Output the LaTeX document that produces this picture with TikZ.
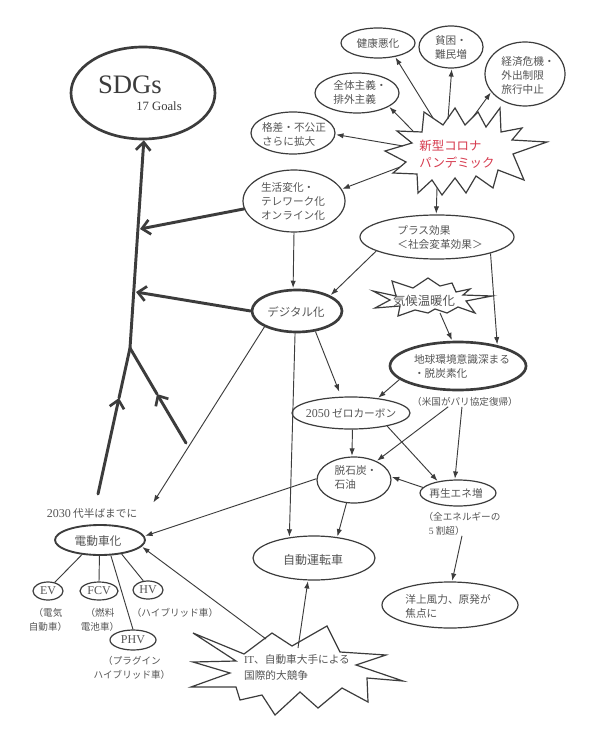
\documentclass[tikz,border=0pt]{standalone}
\usepackage{fontspec}
\setmainfont{Noto Sans CJK JP}
\newfontfamily\lat{Liberation Serif}
\usetikzlibrary{arrows.meta,shapes.geometric}
\definecolor{corored}{RGB}{214,58,78}
\definecolor{ink}{RGB}{60,60,60}
\definecolor{txtc}{RGB}{85,85,85}
\tikzset{
  ln/.style={draw=ink, line width=0.7pt},
  arr/.style={ln, -{Latex[length=5.5pt,width=4pt]}, shorten >=0.5pt},
  big/.style={draw=ink, line width=2.2pt, line cap=round},
  barb/.style={-{Straight Barb[length=6pt,width=11pt,line width=2pt]}},
  ell/.style={ellipse, draw=ink, line width=0.9pt, inner sep=0pt},
  sz/.style 2 args={minimum width=#1*0.75pt, minimum height=#2*0.75pt},
  txt/.style={text=txtc, align=left, inner sep=0pt, font=\fontsize{8}{10.5}\selectfont},
  sub/.style={text=txtc, align=center, inner sep=0pt, font=\fontsize{7.2}{10.5}\selectfont},
  abc/.style={text=txtc, inner sep=0pt, font=\lat\fontsize{9}{10}\selectfont},
  starb/.style={draw=ink, line width=0.9pt, line join=miter, fill=white},
}
\begin{document}
\begin{tikzpicture}[x=0.75pt,y=-0.75pt]
\useasboundingbox[fill=white] (0,0) rectangle (594,737);

% ---------- starbursts ----------
\draw[starb] (385,151) -- (412,143) -- (397,131) -- (422,132) -- (424,112) -- (443,125) -- (455,108) -- (465,125) -- (478,112) -- (486,127) -- (500,108) -- (501,132) -- (522,128) -- (512,140) -- (547,142) -- (513,154) -- (524,180) -- (498,170) -- (493,188) -- (476,176) -- (466,193) -- (455,178) -- (442,195) -- (432,180) -- (418,193) -- (417,174) -- (393,173) -- (406,162) -- cycle;
\draw[starb] (373,291) -- (396,296) -- (392,281) -- (413,288) -- (428,278) -- (440,286) -- (452,283) -- (456,292) -- (470,289) -- (463,295) -- (492,296) -- (466,301) -- (475,313) -- (458,307) -- (447,313) -- (435,309) -- (428,313) -- (415,310) -- (398,316) -- (400,306) -- (375,308) -- (390,300) -- cycle;
\draw[starb] (193,633) -- (244,654) -- (272,633) -- (292,646) -- (327,626) -- (340,652) -- (386,655) -- (356,665) -- (403,681) -- (367,678) -- (368,702) -- (342,688) -- (318,708) -- (300,692) -- (275,715) -- (262,695) -- (240,700) -- (236,687) -- (191,687) -- (230,673) -- (193,662) -- (236,661) -- cycle;

% ---------- nodes ----------
\node[ell, line width=2pt, sz={144}{92}] (sdgs) at (143,93) {};
\node[inner sep=0pt, anchor=base, text=ink, font=\lat\fontsize{20}{20}\selectfont] (sdgs-t) at (130,94) {SDGs};
\node[inner sep=0pt, anchor=base, text=ink, font=\lat\fontsize{9.5}{10}\selectfont] (goals-t) at (159,111) {17 Goals};

\node[ell, sz={74}{30}] (kenko) at (378,43) {};
\node[txt] (kenko-t) at (378,43) {健康悪化};
\node[ell, sz={64}{42}] (hinkon) at (451,47) {};
\node[txt] (hinkon-t) at (451,47) {貧困・\\難民増};
\node[ell, sz={80}{64}] (keizai) at (525,74) {};
\node[txt] (keizai-t) at (528,75) {経済危機・\\外出制限\\旅行中止};
\node[ell, sz={84}{40}] (zentai) at (357,93) {};
\node[txt] (zentai-t) at (360,92) {全体主義・\\排外主義};
\node[ell, sz={84}{42}] (kakusa) at (293,133) {};
\node[txt] (kakusa-t) at (294,134) {格差・不公正\\さらに拡大};
\node[txt, text=corored, font=\fontsize{9.3}{12.75}\selectfont] (corona) at (457,154) {新型コロナ\\パンデミック};

\node[ell, sz={102}{62}] (seikatsu) at (294,201) {};
\node[txt] (seikatsu-t) at (293,201) {生活変化・\\テレワーク化\\オンライン化};
\node[ell, sz={154}{44}] (plus) at (437,237) {};
\node[txt] (plus-t) at (440,237) {プラス効果\\＜社会変革効果＞};

\node[ell, line width=2pt, sz={90}{42}] (digital) at (297,311) {};
\node[txt, font=\fontsize{8.6}{10.5}\selectfont] (digital-t) at (296,312) {デジタル化};
\node[txt, font=\fontsize{9.3}{11}\selectfont] (kiko) at (424,301) {気候温暖化};
\node[ell, line width=2pt, sz={136}{48}] (chikyu) at (458,366) {};
\node[txt] (chikyu-t) at (462,366) {地球環境意識深まる\\・脱炭素化};
\node[sub] (usa) at (465,402) {（米国がパリ協定復帰）};

\node[ell, sz={118}{32}] (zero) at (351,413) {};
\node[txt] (zero-t) at (351,413) {{\lat\fontsize{9}{10}\selectfont 2050} ゼロカーボン};
\node[ell, sz={74}{46}] (datsu) at (354,480) {};
\node[txt] (datsu-t) at (356,477) {脱石炭・\\石油};
\node[ell, sz={76}{26}] (saisei) at (458,493) {};
\node[txt] (saisei-t) at (456,493) {再生エネ増};
\node[sub, align=left] (note) at (462,524) {（全エネルギーの\\\hspace*{4pt}{\lat 5} 割超）};

\node[ell, sz={122}{44}] (jido) at (314,558) {};
\node[txt, font=\fontsize{9}{10.5}\selectfont] (jido-t) at (313,560) {自動運転車};
\node[ell, sz={136}{46}] (yojo) at (450,605) {};
\node[txt] (yojo-t) at (448,606) {洋上風力、原発が\\焦点に};

\node[txt, font=\fontsize{8}{12}\selectfont] (it) at (297,667) {{\lat IT}、自動車大手による\\国際的大競争};

\node[txt] (y2030) at (92,513) {{\lat\fontsize{9}{10}\selectfont 2030} 代半ばまでに};
\node[ell, line width=1.4pt, sz={90}{30}] (dendo) at (100,540) {};
\node[txt, font=\fontsize{8.8}{10.5}\selectfont] (dendo-t) at (98,541) {電動車化};
\node[ell, sz={30}{18}, abc] (ev) at (48,591) {EV};
\node[ell, sz={38}{18}, abc] (fcv) at (99,591) {FCV};
\node[ell, sz={30}{18}, abc] (hv) at (148,590) {HV};
\node[ell, sz={46}{20}, abc] (phv) at (133,640) {PHV};
\node[sub] (ev-l) at (48,620) {（電気\\自動車）};
\node[sub] (fcv-l) at (100,620) {（燃料\\電池車）};
\node[sub] (hv-l) at (175,613) {（ハイブリッド車）};
\node[sub] (phv-l) at (132,668) {（プラグイン\\ハイブリッド車）};

% ---------- coordinates ----------
\coordinate (cor-kenko) at (433,118);
\coordinate (cor-hinkon) at (448,119);
\coordinate (cor-keizai) at (473,117);
\coordinate (cor-zentai) at (413,131);
\coordinate (cor-kakusa) at (403,146);
\coordinate (cor-seikatsu) at (400,167);
\coordinate (cor-plus) at (437,188);
\coordinate (kiko-s) at (440,313);
\coordinate (it-jido) at (298,648);
\coordinate (it-dendo) at (266,639);
\coordinate (c2030) at (153,503);
\coordinate (fork) at (130,348);
\coordinate (tA) at (140,229);
\coordinate (tB) at (136,292);
\coordinate (lEnd) at (98,494);
\coordinate (lMid) at (119,398);
\coordinate (rEnd) at (186,443);
\coordinate (rMid) at (157,394);

% ---------- thick SDG arrows ----------
\draw[big, barb] (fork) -- (sdgs.-89);
\draw[big, barb] (seikatsu.-171) -- (tA);
\draw[big, barb] (digital.180) -- (tB);
\draw[big, barb] (lEnd) -- (lMid);
\draw[big] (lMid) -- (fork);
\draw[big, barb] (rEnd) -- (rMid);
\draw[big] (rMid) -- (fork);

% ---------- thin arrows ----------
\draw[arr] (cor-kenko) -- (kenko.-39);
\draw[arr] (cor-hinkon) -- (hinkon.-88);
\draw[arr] (cor-keizai) -- (keizai.-152);
\draw[arr] (cor-zentai) -- (zentai.-23);
\draw[arr] (cor-kakusa) -- (kakusa.-2);
\draw[arr] (cor-seikatsu) -- (seikatsu.14);
\draw[arr] (cor-plus) -- (plus.92);
\draw[arr] (seikatsu.-90) -- (digital.100);
\draw[arr] (plus.-167) -- (digital.25);
\draw[arr] (plus.-17) -- (chikyu.28);
\draw[arr] (kiko-s) -- (chikyu.103);
\draw[arr] (chikyu.-167) -- (zero.29);
\draw[arr, shorten >=4pt] (digital.-48) -- (zero.121);
\draw[arr] (digital.-95) -- (jido.140);
\draw[arr] (digital.-154) -- (c2030);
\draw[arr] (zero.-85) -- (datsu.95);
\draw[arr] (zero.-20) -- (saisei.150);
\draw[arr] (usa.-164) -- (datsu.40);
\draw[arr] (usa.-122) -- (saisei.103);
\draw[arr] (saisei.171) -- (datsu.5);
\draw[arr] (datsu.178) -- (dendo.5);
\draw[arr] (datsu.-108) -- (jido.42);
\draw[arr] (note.south) -- (yojo.85);
\draw[arr] (it-jido) -- (jido.-105);
\draw[arr] (it-dendo) -- (dendo.-9);

% ---------- vehicle types ----------
\draw[ln] (dendo.-141) -- (ev.52);
\draw[ln] (dendo.-92) -- (fcv.90);
\draw[ln] (dendo.-55) -- (phv.90);
\draw[ln] (dendo.-33) -- (hv.117);
\end{tikzpicture}
\end{document}
